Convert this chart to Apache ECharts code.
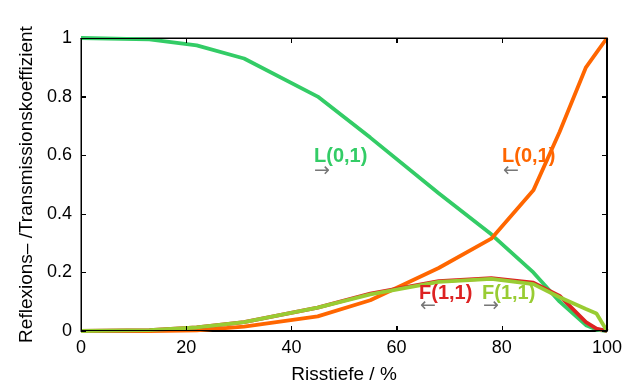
<!DOCTYPE html>
<html><head><meta charset="utf-8">
<script src="https://cdn.jsdelivr.net/npm/echarts@6/dist/echarts.min.js"></script>
<style>html,body{margin:0;padding:0;background:#fff}#c{width:642px;height:389px}</style>
</head><body><div id="c"></div>
<script>
const depth = [0, 13, 22, 31, 45, 55, 68, 78, 86, 91, 96, 98, 100];
const transL01 = [1.0, 0.995, 0.975, 0.93, 0.80, 0.66, 0.47, 0.33, 0.20, 0.10, 0.02, 0.005, 0];
const reflL01 = [0, 0.0, 0.002, 0.015, 0.05, 0.105, 0.215, 0.315, 0.48, 0.68, 0.90, 0.95, 1.0];
const reflF11 = [0, 0.003, 0.012, 0.03, 0.08, 0.128, 0.17, 0.18, 0.165, 0.12, 0.03, 0.008, 0];
const transF11 = [0, 0.003, 0.012, 0.03, 0.08, 0.125, 0.168, 0.178, 0.16, 0.115, 0.075, 0.06, 0];
const xTicks = [0, 20, 40, 60, 80, 100];
const yTicks = [0, 0.2, 0.4, 0.6, 0.8, 1];
const labels = [
  {text: 'L(0,1)', color: '#33cc66', arrow: '→'},
  {text: 'L(0,1)', color: '#ff6600', arrow: '←'},
  {text: 'F(1,1)', color: '#dd2222', arrow: '←'},
  {text: 'F(1,1)', color: '#99cc33', arrow: '→'}
];
const zip = a => depth.map((d, i) => [d, a[i]]);
const FONT = '"Liberation Sans", Arial, sans-serif';
const G = {left: 81, right: 35, top: 38, bottom: 58};
const W = 642, H = 389;
const chart = echarts.init(document.getElementById('c'), null, {renderer: 'canvas', width: W, height: H});
const lineS = (data, color) => ({type: 'line', data: zip(data), symbol: 'none', z: 2,
  lineStyle: {color: color, width: 3.8}, itemStyle: {color: color}});
const mkAxis = (extra) => Object.assign({
  type: 'value', min: 0,
  axisLine: {show: true, onZero: false, lineStyle: {color: '#000', width: 1}},
  axisTick: {show: true, inside: true, length: 5, lineStyle: {color: '#000', width: 1}},
  splitLine: {show: false}
}, extra);
chart.setOption({
  animation: false,
  grid: {left: G.left, right: G.right, top: G.top, bottom: G.bottom, show: true, borderColor: '#000', borderWidth: 1},
  xAxis: [
    mkAxis({max: 100, interval: 20,
      name: 'Risstiefe / %', nameLocation: 'middle', nameGap: 34,
      nameTextStyle: {fontFamily: FONT, fontSize: 19, color: '#000'},
      axisLabel: {fontFamily: FONT, fontSize: 18, color: '#000', margin: 8,
        formatter: v => xTicks.includes(v) ? String(v) : ''}}),
    mkAxis({position: 'top', max: 100, interval: 20, axisLabel: {show: false}})
  ],
  yAxis: [
    mkAxis({max: 1, interval: 0.2,
      name: 'Reflexions\u2013 /Transmissionskoeffizient', nameLocation: 'middle', nameGap: 42,
      nameTextStyle: {fontFamily: FONT, fontSize: 19, color: '#000'},
      axisLabel: {fontFamily: FONT, fontSize: 18, color: '#000', margin: 9,
        formatter: v => { const t = yTicks.find(x => Math.abs(x - v) < 1e-9); return t === undefined ? '' : String(Math.round(t * 10) / 10); }}}),
    mkAxis({position: 'right', max: 1, interval: 0.2, axisLabel: {show: false}})
  ],
  series: [
    lineS(transL01, '#33cc66'),
    lineS(reflL01, '#ff6600'),
    lineS(reflF11, '#dd2222'),
    lineS(transF11, '#99cc33'),
    {type: 'line', xAxisIndex: 1, yAxisIndex: 1, data: [[0, 0]], symbol: 'none', lineStyle: {opacity: 0}}
  ]
});
// Frame + inward ticks (decoration), tick positions taken from the chart's scales
const L = G.left, T = G.top, R = W - G.right, B = H - G.bottom;
const px = (x, y) => {
  let p = null;
  try { p = chart.convertToPixel({gridIndex: 0}, [x, y]); } catch (e) { p = null; }
  if (!p || !isFinite(p[0]) || !isFinite(p[1])) p = [L + (R - L) * x / 100, B - (B - T) * y];
  return p;
};
const els = [];
const seg = (x1, y1, x2, y2) => els.push({type: 'line', z: 50, silent: true,
  shape: {x1: x1, y1: y1, x2: x2, y2: y2}, style: {stroke: '#000', lineWidth: 1}});
seg(L, T + 0.5, R, T + 0.5);
seg(R - 0.5, T, R - 0.5, B);
seg(L, B - 0.5, R, B - 0.5);
seg(L + 0.5, T, L + 0.5, B);
xTicks.forEach(v => { const x = Math.round(px(v, 0)[0]) + 0.5; seg(x, B, x, B - 5); seg(x, T, x, T + 5); });
yTicks.forEach(v => { const y = Math.round(px(0, v)[1]) + 0.5; seg(L, y, L + 5, y); seg(R, y, R - 5, y); });
const labPos = [[314, 146], [502, 146], [419, 283], [482, 283]];
const arrPos = [[314, 162], [503, 162], [420, 297], [483, 297]];
labels.forEach((l, i) => {
  els.push({type: 'text', left: labPos[i][0], top: labPos[i][1], z: 100,
    style: {text: l.text, fill: l.color, font: 'bold 20px ' + FONT}});
  els.push({type: 'text', left: arrPos[i][0], top: arrPos[i][1], z: 100,
    style: {text: l.arrow, fill: '#777', font: '19px "DejaVu Sans", sans-serif'}});
});
chart.setOption({graphic: {elements: els}});
</script></body></html>
